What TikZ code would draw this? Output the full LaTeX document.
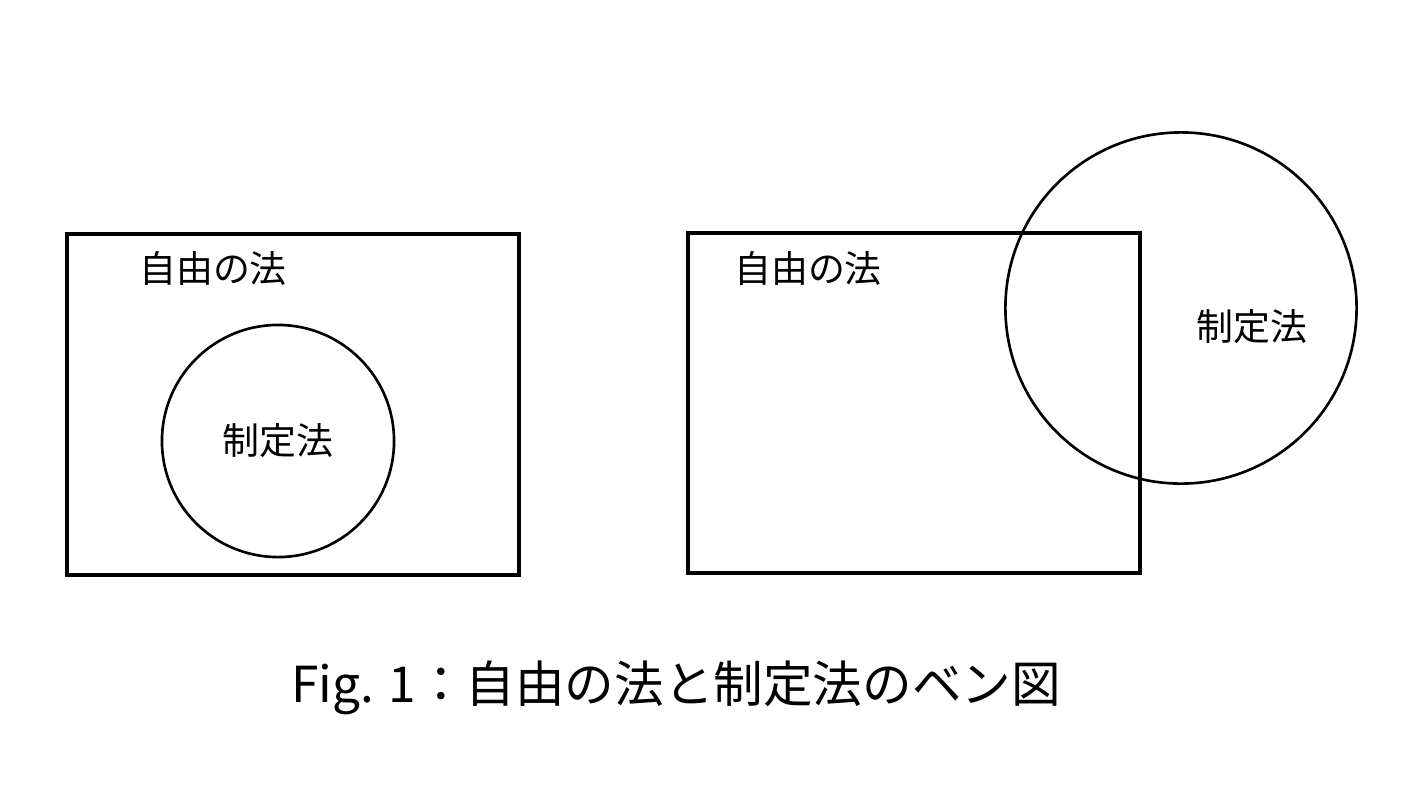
\documentclass[tikz,border=0pt]{standalone}
\usepackage{fontspec}
\setmainfont{Noto Sans CJK JP}
\usetikzlibrary{positioning}

\begin{document}
\begin{tikzpicture}[x=0.01cm,y=-0.01cm,font=\fontsize{10.5pt}{12pt}\selectfont,
    setbox/.style={draw,line width=1.2pt,inner sep=0pt,minimum width=4.52cm,minimum height=3.41cm},
    lawring/.style={draw,circle,line width=0.75pt,inner sep=0pt}]
    \useasboundingbox (0,0) rectangle (1402,787);

    % left: enacted law inside the law of freedom
    \node (freeL) [setbox] at (293,404.5) {};
    \node (lawL) [lawring,minimum size=2.32cm] at (278,441) {制定法};
    \node (freeLtxt) at (213,268) {自由の法};

    % right: enacted law partly outside
    \node (freeR) [setbox,minimum height=3.40cm] at (914,403) {};
    \node (lawR) [lawring,minimum size=3.51cm] at (1181,308) {};
    \node (lawRtxt) at (1252,327) {制定法};
    \node (freeRtxt) at (808,268) {自由の法};

    \node (caption) at (676,688) {\fontsize{14.1pt}{16pt}\selectfont Fig. 1：自由の法と制定法のベン図};
\end{tikzpicture}
\end{document}
